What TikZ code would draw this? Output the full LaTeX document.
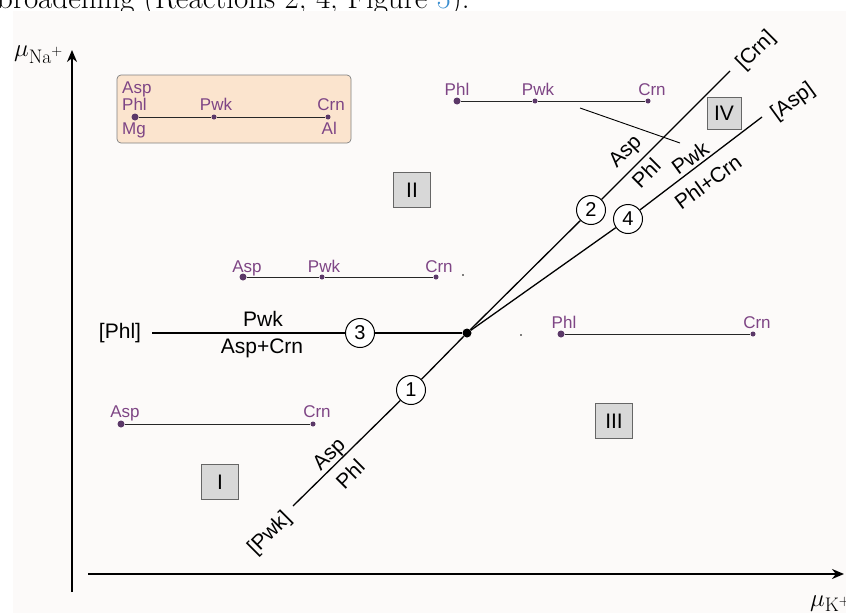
\documentclass[tikz,border=0pt]{standalone}
\usepackage{fontspec}
\setsansfont{Liberation Sans}
\usetikzlibrary{arrows.meta}
\definecolor{bgc}{HTML}{FCFAF9}
\definecolor{purp}{HTML}{7E4585}
\definecolor{dotc}{HTML}{5B3868}
\definecolor{orfill}{HTML}{FBE4CE}
\definecolor{grfill}{HTML}{D8D8D8}
\definecolor{refblue}{HTML}{3B8FD0}
\tikzset{
  blab/.style={font=\sffamily\fontsize{21}{21}\selectfont, inner sep=1pt},
  plab/.style={font=\sffamily\fontsize{17}{17}\selectfont, text=purp, inner sep=0pt},
  pdot/.style={circle, fill=dotc, inner sep=0pt, minimum size=5pt},
  tie/.style={draw=black!85, line width=0.9pt},
  pline/.style={line width=1.3pt},
  numc/.style={circle, draw, line width=1pt, fill=white, minimum size=29pt, inner sep=0pt, font=\sffamily\fontsize{20}{20}\selectfont},
  roman/.style={draw=black!60, fill=grfill, minimum width=37pt, minimum height=35pt, inner sep=0pt, font=\sffamily\fontsize{21}{21}\selectfont},
  axis/.style={line width=2.4pt, -{Stealth[length=12pt,width=10pt]}},
}
\begin{document}
\begin{tikzpicture}[x=1pt,y=-1pt]
\useasboundingbox (0,0) rectangle (846,613);
\begin{scope}
\clip (0,0) rectangle (846,613);
% page text cut off at top
\node[anchor=base west, inner sep=0pt, font=\fontsize{31}{31}\selectfont] (toptxt) at (-3,9) {broadening (Reactions 2, 4, Figure \textcolor{refblue}{5}).};
\fill[bgc] (13,11) rectangle (846,613);
% axes
\coordinate (yb) at (72,592);
\coordinate (yt) at (72,50);
\coordinate (xl) at (88,574);
\coordinate (xr) at (844,574);
\draw[axis] (yb) -- (yt);
\draw[axis] (xl) -- (xr);
\node[anchor=base west, inner sep=0pt, font=\fontsize{28}{28}\selectfont] (xlab) at (810,606) {$\mu_{\mathrm{K}^{+}}$};
\end{scope}
\node[anchor=base west, inner sep=0pt, font=\fontsize{28}{28}\selectfont] (ylab) at (14,56) {$\mu_{\mathrm{Na}^{+}}$};

% orange box with Mg-Al segment
\node[draw=black!50, fill=orfill, rounded corners=4pt, minimum width=234pt, minimum height=68pt, inner sep=0pt, line width=0.7pt] (obox) at (234,109) {};
\node[pdot, minimum size=7pt] (o1) at (135,117) {};
\node[pdot] (o2) at (214,117) {};
\node[pdot] (o3) at (328,117) {};
\draw[tie] (o1) -- (o2) -- (o3);
\node[plab, anchor=base west] (oasp) at (122,93) {Asp};
\node[plab, anchor=base west] (ophl) at (122,110) {Phl};
\node[plab, anchor=base] (opwk) at (216,110) {Pwk};
\node[plab, anchor=base east] (ocrn) at (345,110) {Crn};
\node[plab, anchor=base west] (omg) at (122,134) {Mg};
\node[plab, anchor=base east] (oal) at (337,134) {Al};

% top right segment
\node[pdot, minimum size=7pt] (t1) at (457,101) {};
\node[pdot] (t2) at (535,101) {};
\node[pdot] (t3) at (648,101) {};
\draw[tie] (t1) -- (t2) -- (t3);
\node[plab, anchor=base] (tphl) at (457,95) {Phl};
\node[plab, anchor=base] (tpwk) at (538,95) {Pwk};
\node[plab, anchor=base] (tcrn) at (652,95) {Crn};
\coordinate (tie1) at (580,108);
\coordinate (tie2) at (680,143);
\draw[line width=0.9pt] (tie1) -- (tie2);

% middle segment
\node[pdot, minimum size=7pt] (m1) at (243,277) {};
\node[pdot] (m2) at (322,277) {};
\node[pdot] (m3) at (436,277) {};
\draw[tie] (m1) -- (m2) -- (m3);
\node[plab, anchor=base] (masp) at (247,272) {Asp};
\node[plab, anchor=base] (mpwk) at (324,272) {Pwk};
\node[plab, anchor=base] (mcrn) at (439,272) {Crn};
\fill (463,275) circle (0.8pt);
\fill (521,335) circle (0.9pt);

% right segment
\node[pdot, minimum size=7pt] (r1) at (561,334) {};
\node[pdot] (r2) at (753,334) {};
\draw[tie] (r1) -- (r2);
\node[plab, anchor=base] (rphl) at (564,328) {Phl};
\node[plab, anchor=base] (rcrn) at (757,328) {Crn};

% bottom-left segment
\node[pdot, minimum size=7pt] (b1) at (121,424) {};
\node[pdot] (b2) at (313,424) {};
\draw[tie] (b1) -- (b2);
\node[plab, anchor=base] (basp) at (125,417) {Asp};
\node[plab, anchor=base] (bcrn) at (317,417) {Crn};

% roman numerals
\node[roman] (rI) at (220,482) {I};
\node[roman] (rII) at (412,190) {II};
\node[roman] (rIII) at (614,421) {III};
\node[roman, minimum width=34pt, minimum height=32pt] (rIV) at (724,113) {IV};

% invariant point and univariant lines
\node[circle, fill=black, inner sep=0pt, minimum size=9pt] (T) at (467,333) {};
\node[numc] (c1) at (411,390) {1};
\node[numc] (c2) at (591,210) {2};
\node[numc] (c3) at (360,333) {3};
\node[numc] (c4) at (628,219) {4};
\coordinate (ePwk) at (293,506);
\coordinate (eCrn) at (730,71);
\coordinate (eAsp) at (762,117);
\coordinate (ePhl) at (152,333);
\draw[pline] (ePwk) -- (c1);
\draw[pline] (c1) -- (T);
\draw[pline] (T) -- (c2);
\draw[pline] (c2) -- (eCrn);
\draw[pline] (T) -- (c4);
\draw[pline] (c4) -- (eAsp);
\draw[pline] (ePhl) -- (c3);
\draw[pline] (c3) -- (T);

% end labels
\node[blab, rotate=45] (lPwk) at (270,534) {[Pwk]};
\node[blab, rotate=45] (lCrn) at (756,51) {[Crn]};
\node[blab, rotate=36] (lAsp) at (793,102) {[Asp]};
\node[blab] (lPhl) at (120,333) {[Phl]};

% reaction labels
\node[blab] (r3a) at (263,319) {Pwk};
\node[blab] (r3b) at (262,348) {Asp+Crn};
\node[blab, rotate=45] (r1a) at (330,455) {Asp};
\node[blab, rotate=45] (r1b) at (350,474) {Phl};
\node[blab, rotate=45] (r2a) at (626,152) {Asp};
\node[blab, rotate=45] (r2b) at (646,173) {Phl};
\node[blab, rotate=36] (r4a) at (690,158) {Pwk};
\node[blab, rotate=36] (r4b) at (708,182) {Phl+Crn};
\end{tikzpicture}
\end{document}
